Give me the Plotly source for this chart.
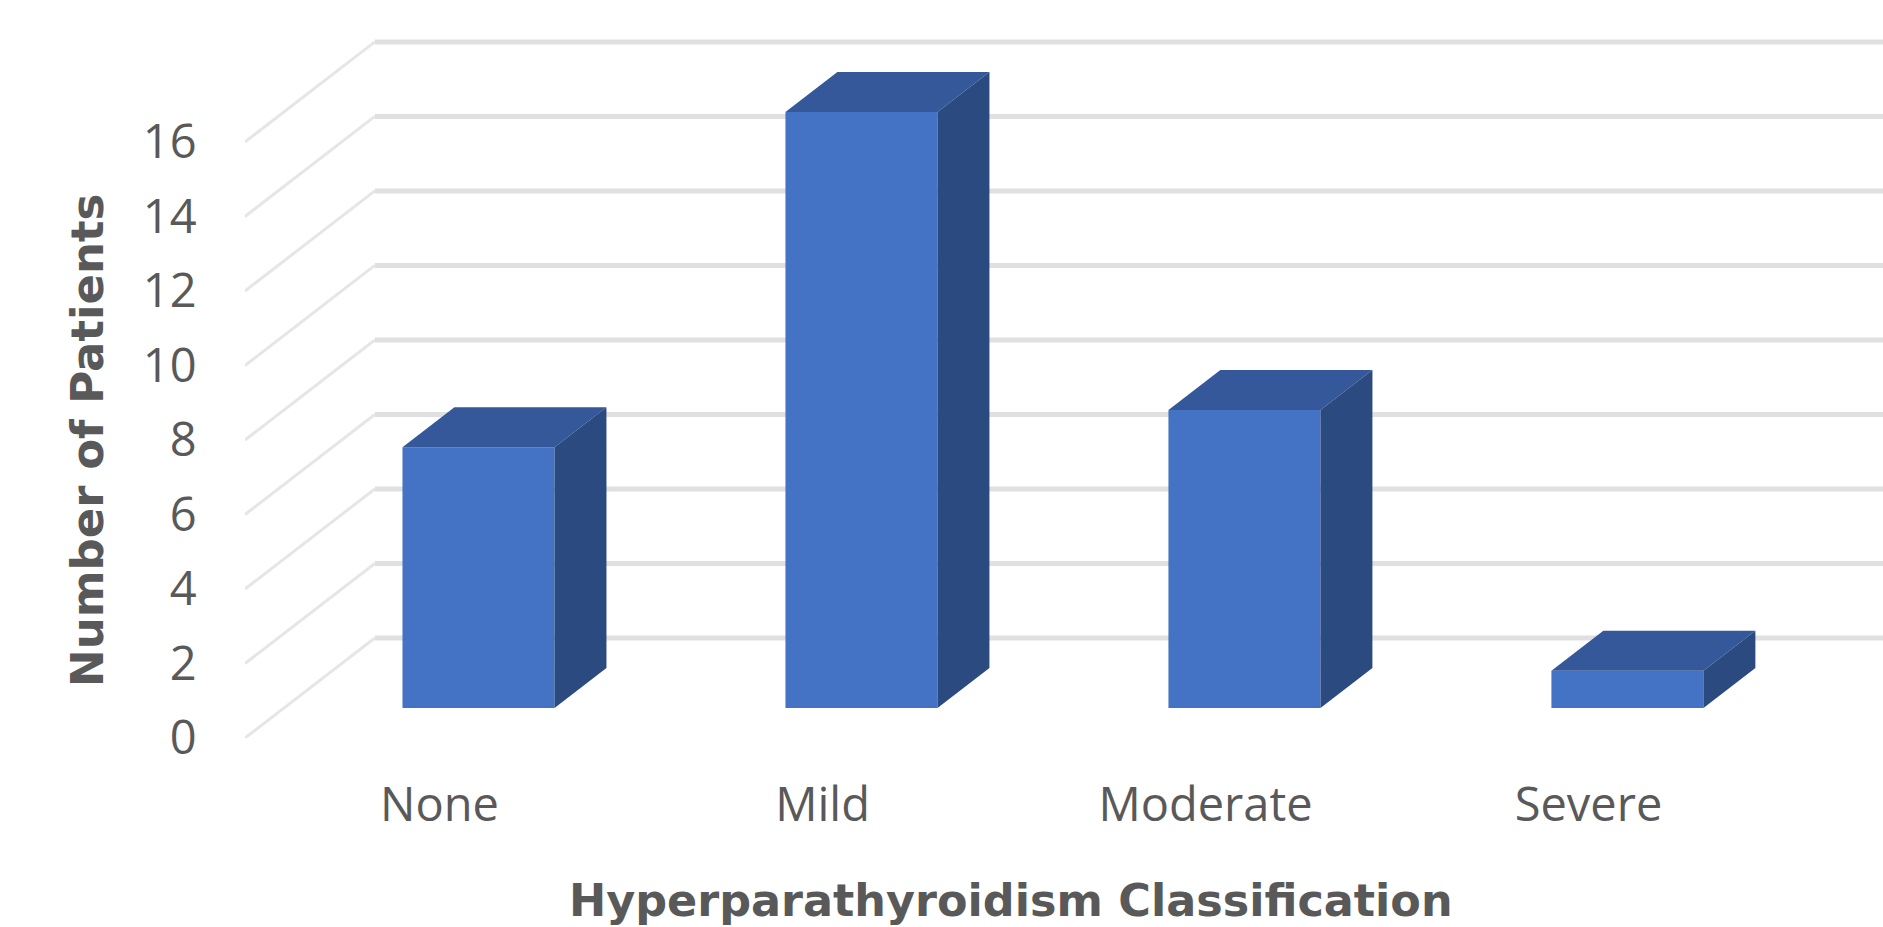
import plotly.graph_objects as go

categories = ["None", "Mild", "Moderate", "Severe"]
patients = [7, 16, 8, 1]
y_ticks = [0, 2, 4, 6, 8, 10, 12, 14, 16]
x_title = "Hyperparathyroidism Classification"
y_title = "Number of Patients"

W, H = 1883, 927
L, B = 245, 189
X_RANGE = [-0.508, 3.769]
Y_RANGE = [0, 19.81]
DX, DY = 0.339, 2.685   # oblique shift of full depth, in axis units
D0, D1 = 0.30, 0.70     # bar depth span
BAR_W = 0.397
GREY = "#595959"
FONT = "Open Sans"
TITLE_FONT = "DejaVu Sans"


def prj(x, y, d):
    return x + DX * d, y + DY * d


pos = list(range(len(categories)))
fig = go.Figure()

# front faces
fig.add_bar(
    x=[p + DX * D0 for p in pos],
    y=patients,
    base=[DY * D0] * len(pos),
    width=BAR_W,
    marker=dict(color="#4472c4", line=dict(width=0)),
    name="Patients",
    showlegend=False,
)

# top and side faces
for p, v in zip(pos, patients):
    x0, x1 = p - BAR_W / 2, p + BAR_W / 2
    corners = [prj(x0, v, D0), prj(x0, v, D1), prj(x1, v, D1), prj(x1, v, D0), prj(x0, v, D0)]
    fig.add_scatter(x=[c[0] for c in corners], y=[c[1] for c in corners], mode="lines",
                    fill="toself", fillcolor="#345899", line=dict(width=0), showlegend=False,
                    hoverinfo="skip")
    corners = [prj(x1, 0, D0), prj(x1, 0, D1), prj(x1, v, D1), prj(x1, v, D0), prj(x1, 0, D0)]
    fig.add_scatter(x=[c[0] for c in corners], y=[c[1] for c in corners], mode="lines",
                    fill="toself", fillcolor="#2a4a80", line=dict(width=0), showlegend=False,
                    hoverinfo="skip")

# wall gridlines
shapes = []
for t in y_ticks:
    x_f, y_f = prj(X_RANGE[0], t, 0)
    x_b, y_b = prj(X_RANGE[0], t, 1)
    shapes.append(dict(type="line", xref="x", yref="y", x0=x_f, y0=y_f, x1=x_b, y1=y_b,
                       layer="below", line=dict(color="#e6e6e6", width=3)))
    shapes.append(dict(type="line", xref="x", yref="y", x0=x_b, y0=y_b, x1=X_RANGE[1], y1=y_b,
                       layer="below", line=dict(color="#e0e0e0", width=5)))

fig.update_layout(
    width=W, height=H, autosize=False,
    margin=dict(l=L, r=0, t=0, b=B, pad=0),
    paper_bgcolor="white", plot_bgcolor="white",
    showlegend=False,
    shapes=shapes,
    font=dict(family=FONT, color=GREY),
    xaxis=dict(range=X_RANGE, tickmode="array", tickvals=pos, ticktext=categories,
               showgrid=False, zeroline=False, showline=False,
               ticks="outside", ticklen=26, tickcolor="rgba(0,0,0,0)",
               tickfont=dict(size=47, family=FONT, color=GREY)),
    yaxis=dict(range=Y_RANGE, tickmode="array", tickvals=y_ticks, ticktext=[str(t) for t in y_ticks],
               showgrid=False, zeroline=False, showline=False,
               ticks="outside", ticklen=38, tickcolor="rgba(0,0,0,0)",
               tickfont=dict(size=47, family=FONT, color=GREY)),
    annotations=[
        dict(text=f"<b>{x_title}</b>", xref="paper", yref="paper", x=(1011 - L) / (W - L),
             y=-(900 - (H - B)) / (H - B), xanchor="center", yanchor="middle", showarrow=False,
             font=dict(size=44.5, family=TITLE_FONT, color=GREY)),
        dict(text=f"<b>{y_title}</b>", xref="paper", yref="paper", x=-(L - 87) / (W - L),
             y=((H - B) - 441) / (H - B), xanchor="center", yanchor="middle", showarrow=False,
             textangle=-90, font=dict(size=45, family=TITLE_FONT, color=GREY)),
    ],
)

fig.write_html("out.html", config=dict(displayModeBar=False),
               post_script="document.body.style.margin='0';document.body.style.overflow='hidden';")
